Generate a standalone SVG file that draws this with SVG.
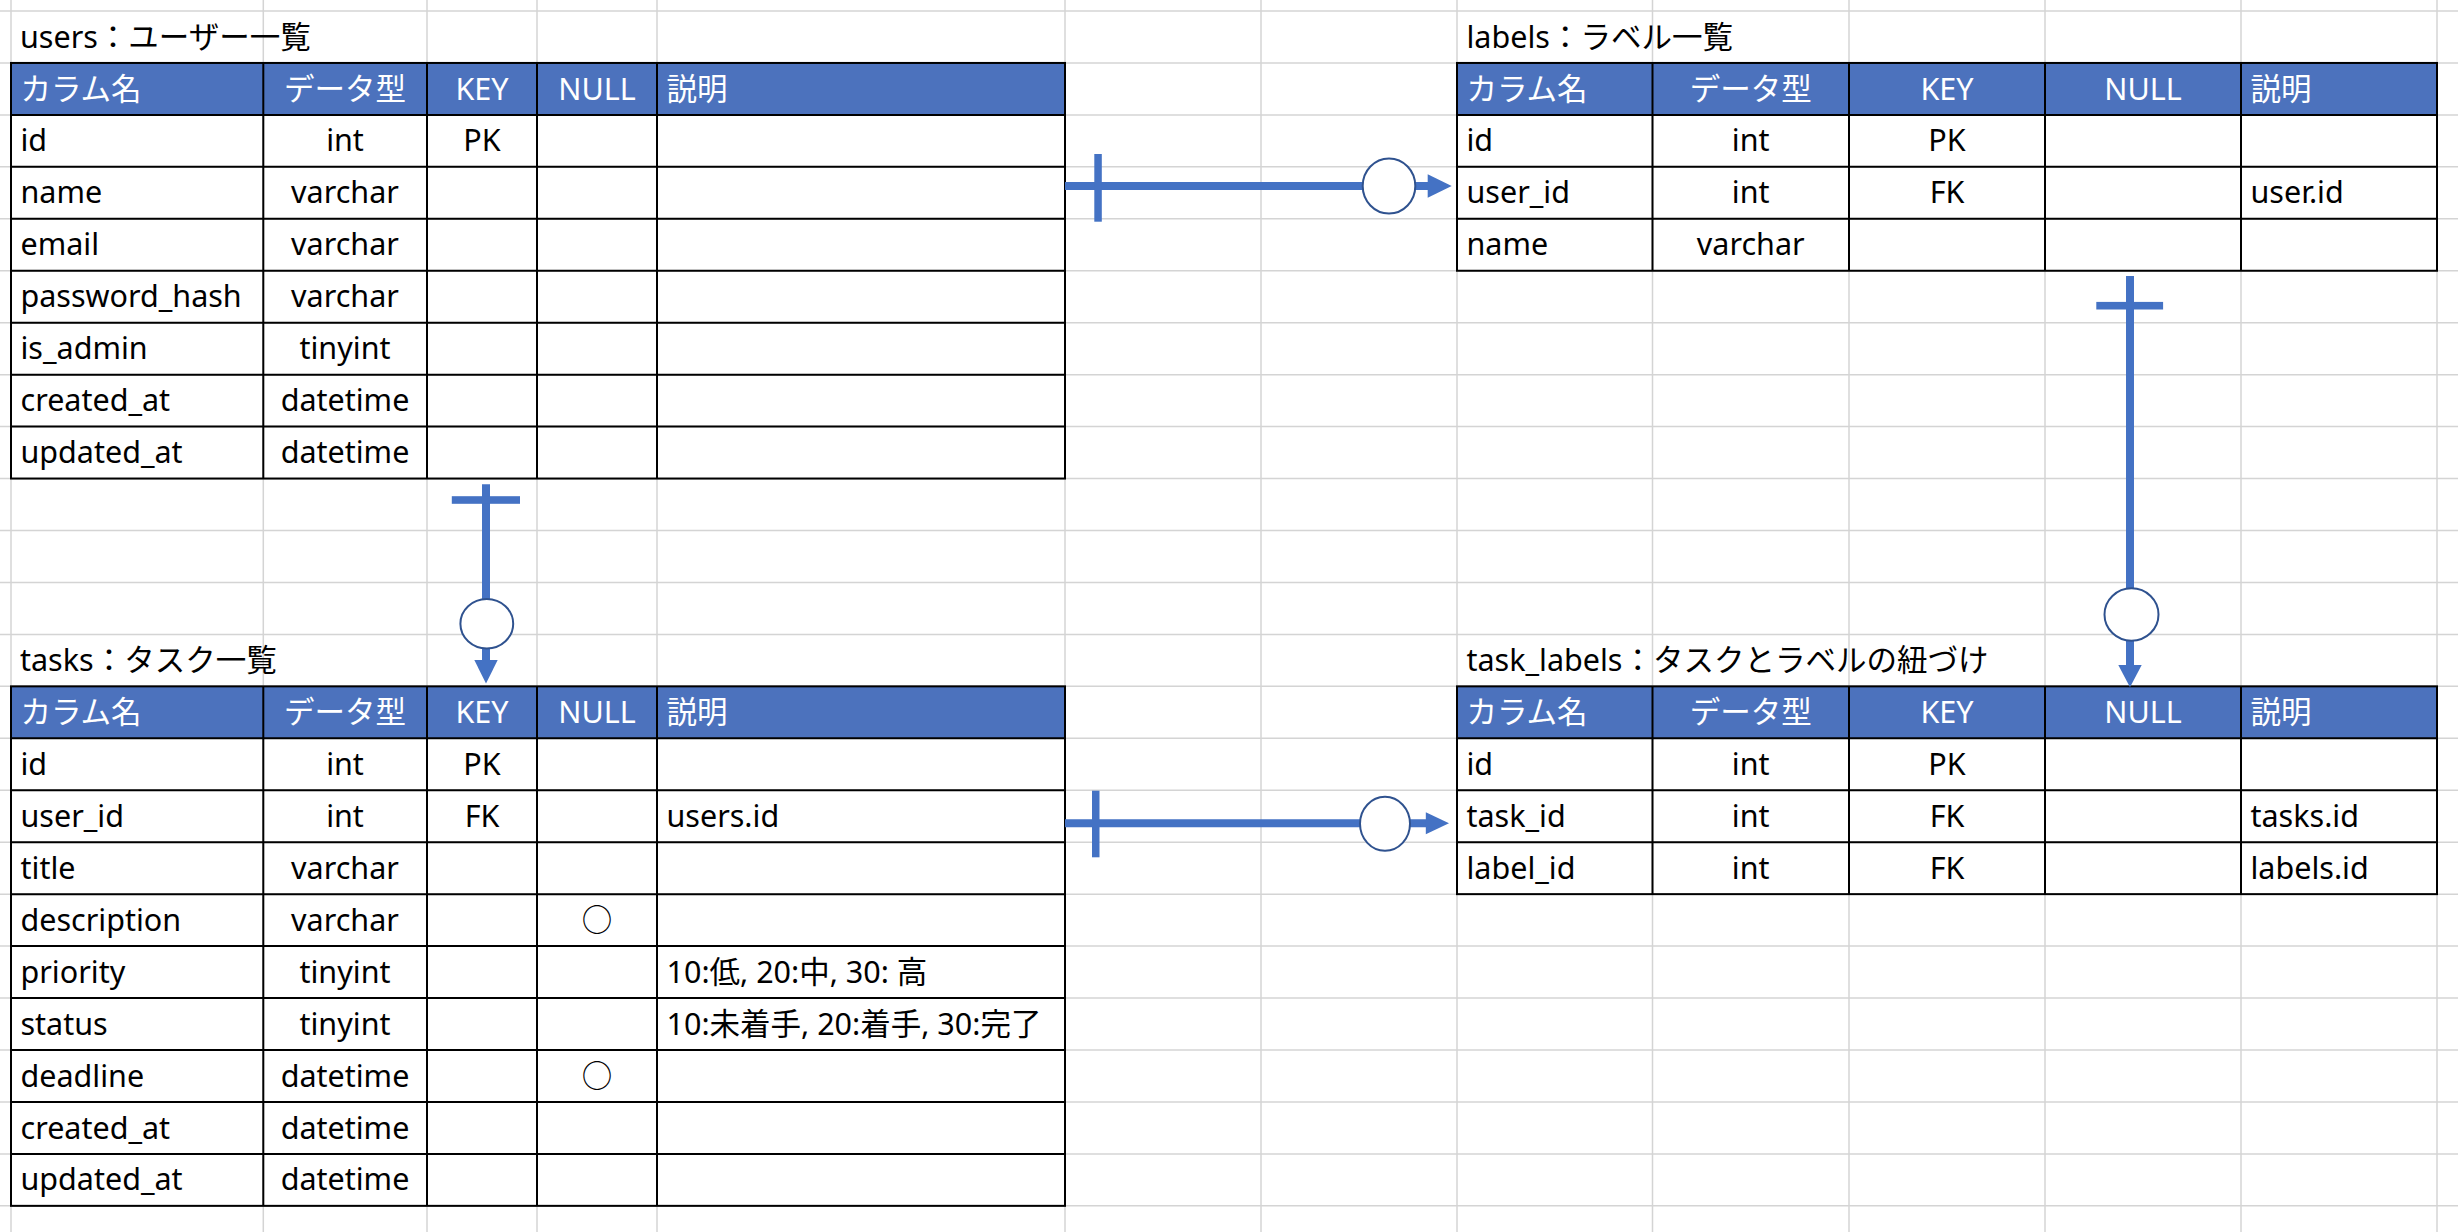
<svg xmlns="http://www.w3.org/2000/svg" width="2458" height="1232" viewBox="0 0 2458 1232">
  <style>
    .grid line { stroke: #D4D4D4; stroke-width: 1.5; }
    .hd { fill: #4C72BD; }
    .bd { stroke: #000; stroke-width: 2; fill: none; }
    text { font-family: "Noto Sans", "Noto Sans CJK JP", sans-serif; font-size: 30.5px; fill: #000; }
    text.w { fill: #fff; }
    text.c { text-anchor: middle; }
    text.sym { font-family: "Noto Sans CJK JP", sans-serif; }
    .conn { stroke: #4472C4; stroke-width: 8; fill: none; }
    .tick { fill: #4472C4; }
    .opt { fill: #fff; stroke: #2F528F; stroke-width: 2; }
    .head { fill: #4472C4; }
  </style>

  <rect width="2458" height="1232" fill="#fff"/>

  <!-- spreadsheet grid -->
  <g class="grid">
    <line x1="0" y1="11" x2="2458" y2="11"/>
    <line x1="0" y1="62.95" x2="2458" y2="62.95"/>
    <line x1="0" y1="114.9" x2="2458" y2="114.9"/>
    <line x1="0" y1="166.85" x2="2458" y2="166.85"/>
    <line x1="0" y1="218.8" x2="2458" y2="218.8"/>
    <line x1="0" y1="270.75" x2="2458" y2="270.75"/>
    <line x1="0" y1="322.7" x2="2458" y2="322.7"/>
    <line x1="0" y1="374.65" x2="2458" y2="374.65"/>
    <line x1="0" y1="426.6" x2="2458" y2="426.6"/>
    <line x1="0" y1="478.55" x2="2458" y2="478.55"/>
    <line x1="0" y1="530.5" x2="2458" y2="530.5"/>
    <line x1="0" y1="582.45" x2="2458" y2="582.45"/>
    <line x1="0" y1="634.4" x2="2458" y2="634.4"/>
    <line x1="0" y1="686.35" x2="2458" y2="686.35"/>
    <line x1="0" y1="738.3" x2="2458" y2="738.3"/>
    <line x1="0" y1="790.25" x2="2458" y2="790.25"/>
    <line x1="0" y1="842.2" x2="2458" y2="842.2"/>
    <line x1="0" y1="894.15" x2="2458" y2="894.15"/>
    <line x1="0" y1="946.1" x2="2458" y2="946.1"/>
    <line x1="0" y1="998.05" x2="2458" y2="998.05"/>
    <line x1="0" y1="1050" x2="2458" y2="1050"/>
    <line x1="0" y1="1101.95" x2="2458" y2="1101.95"/>
    <line x1="0" y1="1153.9" x2="2458" y2="1153.9"/>
    <line x1="0" y1="1205.85" x2="2458" y2="1205.85"/>
    <line x1="11" y1="0" x2="11" y2="1232"/>
    <line x1="263.3" y1="0" x2="263.3" y2="1232"/>
    <line x1="427" y1="0" x2="427" y2="1232"/>
    <line x1="537" y1="0" x2="537" y2="1232"/>
    <line x1="657" y1="0" x2="657" y2="1232"/>
    <line x1="1065" y1="0" x2="1065" y2="1232"/>
    <line x1="1261" y1="0" x2="1261" y2="1232"/>
    <line x1="1457" y1="0" x2="1457" y2="1232"/>
    <line x1="1652.5" y1="0" x2="1652.5" y2="1232"/>
    <line x1="1849" y1="0" x2="1849" y2="1232"/>
    <line x1="2045" y1="0" x2="2045" y2="1232"/>
    <line x1="2241" y1="0" x2="2241" y2="1232"/>
    <line x1="2437" y1="0" x2="2437" y2="1232"/>
  </g>

  <!-- users table -->
  <g id="users">
    <text x="20" y="47.5">users：ユーザー一覧</text>
    <rect class="hd" x="11" y="62.95" width="1054" height="51.95"/>
    <g class="bd">
      <rect x="11" y="62.95" width="1054" height="415.6"/>
      <path d="M11 114.9H1065M11 166.85H1065M11 218.8H1065M11 270.75H1065M11 322.7H1065M11 374.65H1065M11 426.6H1065"/>
      <path d="M263.3 62.95V478.55M427 62.95V478.55M537 62.95V478.55M657 62.95V478.55"/>
    </g>
    <text class="w" x="20.5" y="99.5">カラム名</text>
    <text class="w c" x="345" y="99.5">データ型</text>
    <text class="w c" x="482" y="99.5">KEY</text>
    <text class="w c" x="597" y="99.5">NULL</text>
    <text class="w" x="666.5" y="99.5">説明</text>
    <text x="20.5" y="151.4">id</text><text class="c" x="345" y="151.4">int</text><text class="c" x="482" y="151.4">PK</text>
    <text x="20.5" y="203.4">name</text><text class="c" x="345" y="203.4">varchar</text>
    <text x="20.5" y="255.3">email</text><text class="c" x="345" y="255.3">varchar</text>
    <text x="20.5" y="307.3">password_hash</text><text class="c" x="345" y="307.3">varchar</text>
    <text x="20.5" y="359.2">is_admin</text><text class="c" x="345" y="359.2">tinyint</text>
    <text x="20.5" y="411.2">created_at</text><text class="c" x="345" y="411.2">datetime</text>
    <text x="20.5" y="463.1">updated_at</text><text class="c" x="345" y="463.1">datetime</text>
  </g>

  <!-- labels table -->
  <g id="labels">
    <text x="1466.5" y="47.5">labels：ラベル一覧</text>
    <rect class="hd" x="1457" y="62.95" width="980" height="51.95"/>
    <g class="bd">
      <rect x="1457" y="62.95" width="980" height="207.8"/>
      <path d="M1457 114.9H2437M1457 166.85H2437M1457 218.8H2437"/>
      <path d="M1652.5 62.95V270.75M1849 62.95V270.75M2045 62.95V270.75M2241 62.95V270.75"/>
    </g>
    <text class="w" x="1466.5" y="99.5">カラム名</text>
    <text class="w c" x="1750.7" y="99.5">データ型</text>
    <text class="w c" x="1947" y="99.5">KEY</text>
    <text class="w c" x="2143" y="99.5">NULL</text>
    <text class="w" x="2250.5" y="99.5">説明</text>
    <text x="1466.5" y="151.4">id</text><text class="c" x="1750.7" y="151.4">int</text><text class="c" x="1947" y="151.4">PK</text>
    <text x="1466.5" y="203.4">user_id</text><text class="c" x="1750.7" y="203.4">int</text><text class="c" x="1947" y="203.4">FK</text><text x="2250.5" y="203.4">user.id</text>
    <text x="1466.5" y="255.3">name</text><text class="c" x="1750.7" y="255.3">varchar</text>
  </g>

  <!-- tasks table -->
  <g id="tasks">
    <text x="20" y="671">tasks：タスク一覧</text>
    <rect class="hd" x="11" y="686.35" width="1054" height="51.95"/>
    <g class="bd">
      <rect x="11" y="686.35" width="1054" height="519.5"/>
      <path d="M11 738.3H1065M11 790.25H1065M11 842.2H1065M11 894.15H1065M11 946.1H1065M11 998.05H1065M11 1050H1065M11 1101.95H1065M11 1153.9H1065"/>
      <path d="M263.3 686.35V1205.85M427 686.35V1205.85M537 686.35V1205.85M657 686.35V1205.85"/>
    </g>
    <text class="w" x="20.5" y="722.9">カラム名</text>
    <text class="w c" x="345" y="722.9">データ型</text>
    <text class="w c" x="482" y="722.9">KEY</text>
    <text class="w c" x="597" y="722.9">NULL</text>
    <text class="w" x="666.5" y="722.9">説明</text>
    <text x="20.5" y="774.8">id</text><text class="c" x="345" y="774.8">int</text><text class="c" x="482" y="774.8">PK</text>
    <text x="20.5" y="826.8">user_id</text><text class="c" x="345" y="826.8">int</text><text class="c" x="482" y="826.8">FK</text><text x="666.5" y="826.8">users.id</text>
    <text x="20.5" y="878.7">title</text><text class="c" x="345" y="878.7">varchar</text>
    <text x="20.5" y="930.7">description</text><text class="c" x="345" y="930.7">varchar</text><text class="c sym" x="597" y="930.7">○</text>
    <text x="20.5" y="982.6">priority</text><text class="c" x="345" y="982.6">tinyint</text><text x="666.5" y="982.6">10:低, 20:中, 30: 高</text>
    <text x="20.5" y="1034.6">status</text><text class="c" x="345" y="1034.6">tinyint</text><text x="666.5" y="1034.6">10:未着手, 20:着手, 30:完了</text>
    <text x="20.5" y="1086.5">deadline</text><text class="c" x="345" y="1086.5">datetime</text><text class="c sym" x="597" y="1086.5">○</text>
    <text x="20.5" y="1138.5">created_at</text><text class="c" x="345" y="1138.5">datetime</text>
    <text x="20.5" y="1190.4">updated_at</text><text class="c" x="345" y="1190.4">datetime</text>
  </g>

  <!-- task_labels table -->
  <g id="task_labels">
    <text x="1466.5" y="671">task_labels：タスクとラベルの紐づけ</text>
    <rect class="hd" x="1457" y="686.35" width="980" height="51.95"/>
    <g class="bd">
      <rect x="1457" y="686.35" width="980" height="207.8"/>
      <path d="M1457 738.3H2437M1457 790.25H2437M1457 842.2H2437"/>
      <path d="M1652.5 686.35V894.15M1849 686.35V894.15M2045 686.35V894.15M2241 686.35V894.15"/>
    </g>
    <text class="w" x="1466.5" y="722.9">カラム名</text>
    <text class="w c" x="1750.7" y="722.9">データ型</text>
    <text class="w c" x="1947" y="722.9">KEY</text>
    <text class="w c" x="2143" y="722.9">NULL</text>
    <text class="w" x="2250.5" y="722.9">説明</text>
    <text x="1466.5" y="774.8">id</text><text class="c" x="1750.7" y="774.8">int</text><text class="c" x="1947" y="774.8">PK</text>
    <text x="1466.5" y="826.8">task_id</text><text class="c" x="1750.7" y="826.8">int</text><text class="c" x="1947" y="826.8">FK</text><text x="2250.5" y="826.8">tasks.id</text>
    <text x="1466.5" y="878.7">label_id</text><text class="c" x="1750.7" y="878.7">int</text><text class="c" x="1947" y="878.7">FK</text><text x="2250.5" y="878.7">labels.id</text>
  </g>

  <!-- relationships: one (bar) to zero-or-many (circle + arrow) -->
  <g id="connectors">
    <!-- users -> labels -->
    <g>
      <line class="conn" x1="1065" y1="186" x2="1430" y2="186"/>
      <rect class="tick" x="1094.3" y="154" width="7.5" height="67.7"/>
      <ellipse class="opt" cx="1389" cy="186" rx="26.3" ry="27.5"/>
      <polygon class="head" points="1427.7,174.3 1451.7,186 1427.7,197.7"/>
    </g>
    <!-- users -> tasks -->
    <g>
      <line class="conn" x1="486" y1="484.3" x2="486" y2="662"/>
      <rect class="tick" x="451.8" y="496.2" width="68.2" height="7.6"/>
      <ellipse class="opt" cx="486.8" cy="623.7" rx="26.4" ry="24.7"/>
      <polygon class="head" points="474.3,660 497.7,660 486,683.5"/>
    </g>
    <!-- labels -> task_labels -->
    <g>
      <line class="conn" x1="2130" y1="276" x2="2130" y2="667"/>
      <rect class="tick" x="2096.3" y="301.9" width="66.8" height="7.6"/>
      <ellipse class="opt" cx="2131.5" cy="614.5" rx="27" ry="26.2"/>
      <polygon class="head" points="2118.3,665 2141.7,665 2130,687.3"/>
    </g>
    <!-- tasks -> task_labels -->
    <g>
      <line class="conn" x1="1065" y1="823.3" x2="1427" y2="823.3"/>
      <rect class="tick" x="1092" y="790.7" width="7.5" height="66.6"/>
      <ellipse class="opt" cx="1385" cy="823.8" rx="25" ry="27"/>
      <polygon class="head" points="1425.8,812.3 1449,823.3 1425.8,834.3"/>
    </g>
  </g>
</svg>
